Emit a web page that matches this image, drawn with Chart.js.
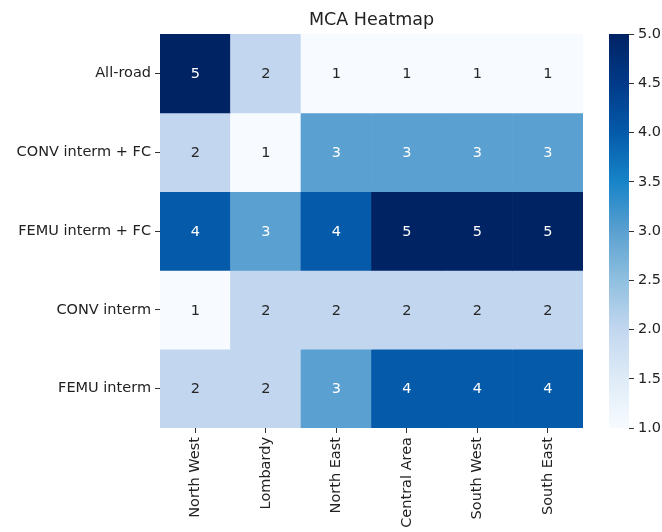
<!DOCTYPE html>
<html>
<head>
<meta charset="utf-8">
<script src="https://cdn.jsdelivr.net/npm/chart.js@4/dist/chart.umd.min.js"></script>
<style>
  body { margin: 0; background: #fff; }
  #wrap { position: relative; width: 662px; height: 532px; }
  #heat { position: absolute; left: 0; top: 0; }
  #cbar { position: absolute; left: 590px; top: 0; }
</style>
</head>
<body>
<div id="wrap">
  <canvas id="heat" width="662" height="532"></canvas>
  <canvas id="cbar" width="72" height="532"></canvas>
</div>
<script>
// Data of the heatmap
const regions = ["North West", "Lombardy", "North East", "Central Area", "South West", "South East"];
const scenarios = ["All-road", "CONV interm + FC", "FEMU interm + FC", "CONV interm", "FEMU interm"];
const allRoad = [5, 2, 1, 1, 1, 1];
const convFC = [2, 1, 3, 3, 3, 3];
const femuFC = [4, 3, 4, 5, 5, 5];
const convInterm = [1, 2, 2, 2, 2, 2];
const femuInterm = [2, 2, 3, 4, 4, 4];
const rows = [allRoad, convFC, femuFC, convInterm, femuInterm];
const vMin = 1, vMax = 5;
const cbarTicks = [1.0, 1.5, 2.0, 2.5, 3.0, 3.5, 4.0, 4.5, 5.0];

// "Blues" colormap, as it looks in the picture
const blues = ["#f7fbff", "#deebf7", "#c2d7ef", "#90c0e0", "#5aa0d0", "#1784c8", "#055aaa", "#003a88", "#002364"];
const FONT = "'DejaVu Sans', sans-serif";

function hexRgb(h) {
  return [parseInt(h.slice(1, 3), 16), parseInt(h.slice(3, 5), 16), parseInt(h.slice(5, 7), 16)];
}
function colorRgb(v) {
  let t = (v - vMin) / (vMax - vMin);
  t = Math.max(0, Math.min(1, t)) * (blues.length - 1);
  const i = Math.min(Math.floor(t), blues.length - 2);
  const f = t - i;
  const a = hexRgb(blues[i]), b = hexRgb(blues[i + 1]);
  return a.map((c, k) => Math.round(c + (b[k] - c) * f));
}
function colorOf(v) {
  const c = colorRgb(v);
  return "rgb(" + c.join(",") + ")";
}
function textColorOf(v) {
  // same rule as seaborn: light text on dark cells
  const lin = colorRgb(v).map(c => {
    c = c / 255;
    return c <= 0.03928 ? c / 12.92 : Math.pow((c + 0.055) / 1.055, 2.4);
  });
  const lum = 0.2126 * lin[0] + 0.7152 * lin[1] + 0.0722 * lin[2];
  return lum > 0.408 ? "#262626" : "#ffffff";
}

Chart.defaults.font.family = FONT;
Chart.defaults.color = "#222";

// one dataset per row, floating bars [r, r+1]
const datasets = rows.map((vals, r) => ({
  label: scenarios[r],
  data: vals.map(() => [r, r + 1]),
  values: vals,
  backgroundColor: vals.map(colorOf),
  borderWidth: 0,
  barPercentage: 1,
  categoryPercentage: 1,
  grouped: false
}));

const cellLabels = {
  id: "cellLabels",
  afterDatasetsDraw(chart) {
    const ctx = chart.ctx;
    ctx.save();
    ctx.font = "14.5px " + FONT;
    ctx.textAlign = "center";
    ctx.textBaseline = "middle";
    chart.data.datasets.forEach((ds, d) => {
      chart.getDatasetMeta(d).data.forEach((el, i) => {
        const p = el.getCenterPoint();
        ctx.fillStyle = textColorOf(ds.values[i]);
        ctx.fillText(String(ds.values[i]), p.x, p.y + 1);
      });
    });
    ctx.restore();
  }
};

new Chart(document.getElementById("heat"), {
  type: "bar",
  data: { labels: regions, datasets: datasets },
  options: {
    responsive: false,
    animation: false,
    events: [],
    layout: { padding: { left: 0, right: 79, top: 0, bottom: 0 } },
    scales: {
      x: {
        grid: { offset: false, drawOnChartArea: false, tickLength: 5, color: "#333" },
        border: { display: false },
        ticks: {
          autoSkip: false, minRotation: 90, maxRotation: 90, padding: 4,
          font: { size: 14.5 }, color: "#222"
        },
        afterFit(scale) { scale.height = 104; }
      },
      y: {
        type: "linear",
        min: 0,
        max: scenarios.length,
        reverse: true,
        grid: { drawOnChartArea: false, tickLength: 5, color: "#333" },
        border: { display: false },
        afterBuildTicks(scale) {
          scale.ticks = scenarios.map((s, i) => ({ value: i + 0.5 }));
        },
        ticks: {
          padding: 4,
          font: { size: 14.5 },
          color: "#222",
          callback: (v) => scenarios[Math.floor(v)]
        },
        afterFit(scale) { scale.width = 160; }
      }
    },
    plugins: {
      legend: { display: false },
      tooltip: { enabled: false },
      title: {
        display: true,
        text: "MCA Heatmap",
        fullSize: false,
        color: "#222",
        font: { size: 17.5, weight: "normal" },
        padding: { top: 10, bottom: 3 }
      }
    }
  },
  plugins: [cellLabels]
});

// colour bar
new Chart(document.getElementById("cbar"), {
  type: "bar",
  data: {
    labels: ["cb"],
    datasets: [{
      data: [[vMin, vMax]],
      borderWidth: 0,
      barPercentage: 1,
      categoryPercentage: 1,
      backgroundColor(c) {
        const chart = c.chart;
        const ys = chart.scales.y;
        if (!ys) return blues[4];
        const y0 = ys.getPixelForValue(vMin), y1 = ys.getPixelForValue(vMax);
        if (!isFinite(y0) || !isFinite(y1)) return blues[4];
        const g = chart.ctx.createLinearGradient(0, y0, 0, y1);
        blues.forEach((col, i) => g.addColorStop(i / (blues.length - 1), col));
        return g;
      }
    }]
  },
  options: {
    responsive: false,
    animation: false,
    events: [],
    layout: { padding: { left: 19, right: 0, top: 34, bottom: 104 } },
    scales: {
      x: { display: false },
      y: {
        position: "right",
        min: vMin,
        max: vMax,
        grid: { drawOnChartArea: false, tickLength: 5, color: "#333" },
        border: { display: false },
        afterBuildTicks(scale) {
          scale.ticks = cbarTicks.map(v => ({ value: v }));
        },
        ticks: {
          padding: 4,
          font: { size: 14.5 },
          color: "#222",
          callback: (v) => v.toFixed(1)
        },
        afterFit(scale) { scale.width = 33; }
      }
    },
    plugins: { legend: { display: false }, tooltip: { enabled: false } }
  }
});
</script>
</body>
</html>
